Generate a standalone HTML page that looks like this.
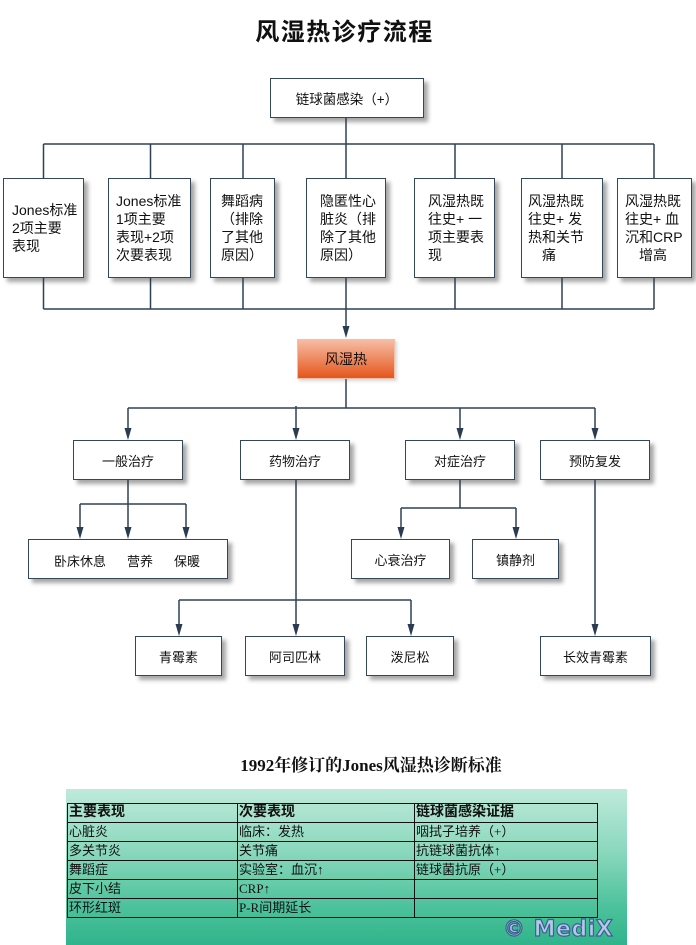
<!DOCTYPE html>
<html><head><meta charset="utf-8">
<style>
html,body{margin:0;padding:0;background:#fff;}
body{width:696px;height:945px;position:relative;overflow:hidden;font-family:"Liberation Sans","Noto Sans CJK SC",sans-serif;color:#111;}
.title{position:absolute;left:0;top:18px;width:689px;text-align:center;font-size:24px;font-weight:bold;line-height:30px;letter-spacing:1.5px;font-family:"Liberation Sans","Noto Sans CJK SC",sans-serif;}
.box{position:absolute;box-sizing:border-box;background:#fff;border:1.5px solid #34465a;box-shadow:4px 4px 4px rgba(60,60,60,0.45);}
.row1{top:178px;height:100px;display:flex;align-items:center;font-size:14px;line-height:18px;}
.row1 .t{white-space:nowrap;}
.c{display:flex;align-items:center;justify-content:center;font-size:13px;}
.rf{position:absolute;left:297px;top:339px;width:98px;height:40px;background:linear-gradient(#f6bca3,#e4561c);border:1px solid #f0c0a8;box-sizing:border-box;display:flex;align-items:center;justify-content:center;font-size:14px;box-shadow:2px 2px 3px rgba(120,120,120,0.3);}
.sub{position:absolute;left:0;top:756px;width:742px;text-align:center;font-size:17px;font-weight:bold;line-height:20px;font-family:"Liberation Serif","Noto Serif CJK SC",serif;}
.green{position:absolute;left:66px;top:789px;width:561px;height:156px;background:linear-gradient(#bfeadb 0%,#8ad8bd 40%,#4dc29c 75%,#30b48b 100%);}
table{position:absolute;left:67px;top:803px;width:530px;table-layout:fixed;border-collapse:collapse;font-family:"Liberation Serif","Noto Sans CJK SC",serif;font-size:13px;}
td{border:1px solid #111;height:18px;padding:0 0 0 1px;line-height:18px;vertical-align:middle;white-space:nowrap;overflow:hidden;}
th{border:1px solid #111;height:18px;padding:0 0 0 1px;line-height:18px;text-align:left;font-size:14px;font-weight:bold;white-space:nowrap;overflow:hidden;}
.medix{position:absolute;left:503px;top:916px;font-family:"DejaVu Sans","Liberation Sans",sans-serif;font-weight:bold;font-size:22px;color:#b4c8ea;-webkit-text-stroke:1.2px #3f5f92;letter-spacing:0.5px;line-height:28px;}
</style></head><body>
<div class="title">风湿热诊疗流程</div>

<svg width="696" height="945" style="position:absolute;left:0;top:0" xmlns="http://www.w3.org/2000/svg">
<g stroke="#2e4057" stroke-width="1.5" fill="none">
<path d="M346 118V144M43.5 144H654M43.5 144V178M150.5 144V178M243 144V178M346 144V178M455 144V178M562 144V178M654 144V178"/>
<path d="M43.5 278V309M150.5 278V309M243 278V309M346 278V309M455 278V309M562 278V309M654 278V309M43.5 309H654M346 309V330"/>
<path d="M346 379V408M128 408H595M128 408V432M296 406V432M460 408V432M595 408V432"/>
<path d="M128 480V531M80 504H186M80 504V531M186 504V531"/>
<path d="M460 480V508M401 508H516M401 508V531M516 508V531"/>
<path d="M296 480V628M179 600H411M179 600V628M411 600V628"/>
<path d="M595 480V628"/>
</g>
<g fill="#2a3b52">
<path d="M342.5 326L349.5 326L346 338Z"/>
<path d="M124.5 428L131.5 428L128 440Z"/>
<path d="M292.5 428L299.5 428L296 440Z"/>
<path d="M456.5 428L463.5 428L460 440Z"/>
<path d="M591.5 428L598.5 428L595 440Z"/>
<path d="M76.5 527L83.5 527L80 539Z"/>
<path d="M124.5 527L131.5 527L128 539Z"/>
<path d="M182.5 527L189.5 527L186 539Z"/>
<path d="M397.5 527L404.5 527L401 539Z"/>
<path d="M512.5 527L519.5 527L516 539Z"/>
<path d="M292.5 624L299.5 624L296 636Z"/>
<path d="M175.5 624L182.5 624L179 636Z"/>
<path d="M407.5 624L414.5 624L411 636Z"/>
<path d="M591.5 624L598.5 624L595 636Z"/>
</g>
</svg>

<div class="box c" style="left:270px;top:78px;width:154px;height:40px;font-size:13.5px;">链球菌感染（+）</div>

<div class="box row1" style="left:3px;width:81px;"><div class="t" style="padding-left:8px">Jones标准<br>2项主要<br>表现</div></div>
<div class="box row1" style="left:108px;width:83px;"><div class="t" style="padding-left:7px">Jones标准<br>1项主要<br>表现+2项<br>次要表现</div></div>
<div class="box row1" style="left:210px;width:65px;"><div class="t" style="padding-left:10px">舞蹈病<br>（排除<br>了其他<br>原因）</div></div>
<div class="box row1" style="left:306px;width:80px;"><div class="t" style="padding-left:13px">隐匿性心<br>脏炎（排<br>除了其他<br>原因）</div></div>
<div class="box row1" style="left:414px;width:81px;"><div class="t" style="padding-left:13px">风湿热既<br>往史+ 一<br>项主要表<br>现</div></div>
<div class="box row1" style="left:521px;width:82px;"><div class="t" style="padding-left:6px">风湿热既<br>往史+ 发<br>热和关节<br>　痛</div></div>
<div class="box row1" style="left:617px;width:75px;"><div class="t" style="padding-left:7px">风湿热既<br>往史+ 血<br>沉和CRP<br>　增高</div></div>

<div class="rf">风湿热</div>

<div class="box c" style="left:73px;top:440px;width:110px;height:40px;">一般治疗</div>
<div class="box c" style="left:240px;top:440px;width:110px;height:40px;">药物治疗</div>
<div class="box c" style="left:405px;top:440px;width:110px;height:40px;">对症治疗</div>
<div class="box c" style="left:540px;top:440px;width:110px;height:40px;">预防复发</div>

<div class="box" style="left:28px;top:539px;width:200px;height:40px;font-size:13px;">
<span style="position:absolute;left:25px;top:11px;">卧床休息</span>
<span style="position:absolute;left:98px;top:11px;">营养</span>
<span style="position:absolute;left:145px;top:11px;">保暖</span>
</div>
<div class="box c" style="left:351px;top:539px;width:99px;height:40px;">心衰治疗</div>
<div class="box c" style="left:472px;top:539px;width:87px;height:40px;">镇静剂</div>

<div class="box c" style="left:135px;top:636px;width:87px;height:40px;">青霉素</div>
<div class="box c" style="left:245px;top:636px;width:100px;height:40px;">阿司匹林</div>
<div class="box c" style="left:366px;top:636px;width:88px;height:40px;">泼尼松</div>
<div class="box c" style="left:540px;top:636px;width:111px;height:40px;">长效青霉素</div>

<div class="sub">1992年修订的Jones风湿热诊断标准</div>

<div class="green"></div>
<table>
<colgroup><col style="width:170px"><col style="width:177px"><col style="width:183px"></colgroup>
<tr><th>主要表现</th><th>次要表现</th><th>链球菌感染证据</th></tr>
<tr><td>心脏炎</td><td>临床：发热</td><td>咽拭子培养（+）</td></tr>
<tr><td>多关节炎</td><td>关节痛</td><td>抗链球菌抗体↑</td></tr>
<tr><td>舞蹈症</td><td>实验室：血沉↑</td><td>链球菌抗原（+）</td></tr>
<tr><td>皮下小结</td><td>CRP↑</td><td></td></tr>
<tr><td>环形红斑</td><td>P-R间期延长</td><td></td></tr>
</table>
<div class="medix">© MediX</div>
</body></html>
